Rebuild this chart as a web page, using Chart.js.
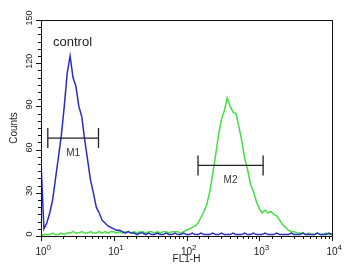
<!DOCTYPE html>
<html>
<head>
<meta charset="utf-8">
<script src="https://cdn.jsdelivr.net/npm/chart.js@4/dist/chart.umd.min.js"></script>
<style>
  html, body { margin: 0; padding: 0; background: #fff; }
  #wrap { width: 346px; height: 275px; }
</style>
</head>
<body>
<div id="wrap"><canvas id="chartFlow" width="346" height="275"></canvas></div>
<script>
// FL1-H channel values (log spaced, 4 decades)
const channels = [
  1, 1.096, 1.202, 1.318, 1.445, 1.585, 1.738, 1.905, 2.089, 2.291, 2.512, 2.754, 3.02, 3.311, 3.631, 3.981, 4.365, 4.786, 5.248, 5.754, 6.31, 6.918, 7.586, 8.318, 9.12,
  10, 10.96, 12.02, 13.18, 14.45, 15.85, 17.38, 19.05, 20.89, 22.91, 25.12, 27.54, 30.2, 33.11, 36.31, 39.81, 43.65, 47.86, 52.48, 57.54, 63.1, 69.18, 75.86, 83.18, 91.2,
  100, 109.6, 120.2, 131.8, 144.5, 158.5, 173.8, 190.5, 208.9, 229.1, 251.2, 275.4, 302, 331.1, 363.1, 398.1, 436.5, 478.6, 524.8, 575.4, 631, 691.8, 758.6, 831.8, 912,
  1000, 1096, 1202, 1318, 1445, 1585, 1738, 1905, 2089, 2291, 2512, 2754, 3020, 3311, 3631, 3981, 4365, 4786, 5248, 5754, 6310, 6918, 7586, 8318, 9120,
  10000
];

// control (blue)
const controlCounts = [
  52, 5, 9, 16, 25, 40, 55, 70, 90, 113, 125, 110, 104, 90, 83, 67, 53, 39, 30, 20, 16, 11, 9, 7, 6,
  5, 4, 4, 3, 2, 3, 2, 2, 1, 2, 2, 1, 2, 1, 1, 2, 1, 1, 2, 1, 1, 2, 1, 1, 2,
  1, 1, 2, 1, 1, 2, 1, 1, 1, 2, 1, 1, 2, 1, 1, 1, 2, 1, 1, 1, 2, 1, 1, 2, 1,
  1, 1, 2, 1, 1, 1, 2, 1, 1, 1, 1, 2, 1, 1, 1, 2, 1, 1, 1, 1, 2, 1, 1, 1, 2,
  1
];

// sample (green)
const sampleCounts = [
  0, 1, 1, 1, 2, 1, 1, 2, 1, 2, 2, 3, 2, 2, 3, 2, 2, 3, 2, 2, 3, 2, 3, 2, 3,
  3, 2, 3, 2, 3, 3, 2, 3, 2, 3, 3, 2, 3, 3, 2, 3, 2, 3, 3, 2, 3, 3, 3, 2, 3,
  4, 5, 6, 7, 9, 13, 17, 22, 31, 43, 56, 70, 81, 87, 96, 90, 86, 85, 76, 66, 54, 46, 36, 31, 24,
  19, 16, 18, 16, 17, 15, 14, 11, 8, 6, 4, 3, 3, 2, 2, 2, 1, 2, 1, 1, 2, 1, 1, 2, 1,
  1
];

// gate markers
const markerNames = ['M1', 'M2'];
const markerStart = [1.24, 144];
const markerEnd = [6.17, 1130];
const markerLevel = [68, 49];

const yTickLabels = [0, 30, 60, 90, 120, 150];
const xTickLabels = [1, 10, 100, 1000, 10000];
const xExponents = ['0', '1', '2', '3', '4'];

const toPoints = (ys) => channels.map((c, i) => ({ x: c, y: ys[i] }));

const markerSets = markerNames.map((m, i) => ({
  label: m,
  data: [{ x: markerStart[i], y: markerLevel[i] }, { x: markerEnd[i], y: markerLevel[i] }],
  borderColor: '#222',
  borderWidth: 1.3,
  pointStyle: 'line',
  rotation: 90,
  pointRadius: 10,
  pointBorderWidth: 1.3,
  pointBorderColor: '#222',
  order: 0
}));

const decor = {
  id: 'decor',
  afterDraw(chart) {
    const { ctx, chartArea: a, scales: { x, y } } = chart;
    ctx.save();
    ctx.strokeStyle = '#111';
    ctx.lineWidth = 1;
    ctx.strokeRect(a.left + 0.5, a.top + 0.5, a.right - a.left, a.bottom - a.top);

    ctx.beginPath();
    y.ticks.forEach(t => {
      const py = Math.round(y.getPixelForValue(t.value)) + 0.5;
      const len = t.value % 30 === 0 ? 5 : 3;
      ctx.moveTo(a.left - len, py); ctx.lineTo(a.left, py);
    });
    x.ticks.forEach(t => {
      const lg = Math.log10(t.value);
      const major = Math.abs(lg - Math.round(lg)) < 1e-6;
      const px = Math.round(x.getPixelForValue(t.value)) + 0.5;
      ctx.moveTo(px, a.bottom); ctx.lineTo(px, a.bottom + (major ? 5 : 3));
    });
    ctx.stroke();

    ctx.fillStyle = '#222';
    ctx.font = '9px "Liberation Sans", Arial, sans-serif';
    ctx.textAlign = 'center';
    ctx.textBaseline = 'middle';
    yTickLabels.forEach(v => {
      const py = y.getPixelForValue(v);
      ctx.save();
      ctx.translate(a.left - 11, py - 2);
      ctx.rotate(-Math.PI / 2);
      ctx.fillText(String(v), 0, 0);
      ctx.restore();
    });

    ctx.textBaseline = 'alphabetic';
    xTickLabels.forEach((v, i) => {
      const px = x.getPixelForValue(v);
      ctx.font = '10px "Liberation Sans", Arial, sans-serif';
      ctx.textAlign = 'center';
      ctx.fillText('10', px, a.bottom + 19);
      ctx.font = '8px "Liberation Sans", Arial, sans-serif';
      ctx.textAlign = 'left';
      ctx.fillText(xExponents[i], px + 5.5, a.bottom + 14);
    });

    ctx.font = '10px "Liberation Sans", Arial, sans-serif';
    ctx.textAlign = 'center';
    ctx.textBaseline = 'middle';
    ctx.fillStyle = '#333';
    markerNames.forEach((m, i) => {
      const px = x.getPixelForValue(Math.sqrt(markerStart[i] * markerEnd[i]));
      const py = y.getPixelForValue(markerLevel[i]);
      ctx.fillText(m, px, py + 15);
    });

    ctx.font = '13px "Liberation Sans", Arial, sans-serif';
    ctx.textAlign = 'left';
    ctx.textBaseline = 'alphabetic';
    ctx.fillStyle = '#222';
    ctx.fillText('control', a.left + 12, a.top + 26);
    ctx.restore();
  }
};

new Chart(document.getElementById('chartFlow'), {
  type: 'line',
  data: {
    datasets: [
      ...markerSets,
      {
        label: 'control',
        data: toPoints(controlCounts),
        borderColor: '#2c2cbf',
        borderWidth: 1.5,
        pointRadius: 0,
        tension: 0,
        order: 1
      },
      {
        label: 'sample',
        data: toPoints(sampleCounts),
        borderColor: '#45de45',
        borderWidth: 1.5,
        pointRadius: 0,
        tension: 0,
        order: 2
      }
    ]
  },
  plugins: [decor],
  options: {
    responsive: false,
    animation: false,
    layout: { padding: { top: 20, right: 14, left: 0, bottom: 0 } },
    plugins: { legend: { display: false }, tooltip: { enabled: false } },
    scales: {
      x: {
        type: 'logarithmic',
        min: 1,
        max: 10000,
        grid: { display: false },
        border: { display: false },
        ticks: { display: false },
        title: {
          display: true,
          text: 'FL1-H',
          color: '#222',
          font: { family: '"Liberation Sans", Arial, sans-serif', size: 10 },
          padding: { top: 0, bottom: 10 }
        },
        afterFit(scale) { scale.height = 39; }
      },
      y: {
        min: 0,
        max: 150,
        grid: { display: false },
        border: { display: false },
        ticks: { display: false, stepSize: 5 },
        title: {
          display: true,
          text: 'Counts',
          color: '#222',
          font: { family: '"Liberation Sans", Arial, sans-serif', size: 10 },
          padding: { top: 8, bottom: 0 }
        },
        afterFit(scale) { scale.width = 41; }
      }
    }
  }
});
</script>
</body>
</html>
